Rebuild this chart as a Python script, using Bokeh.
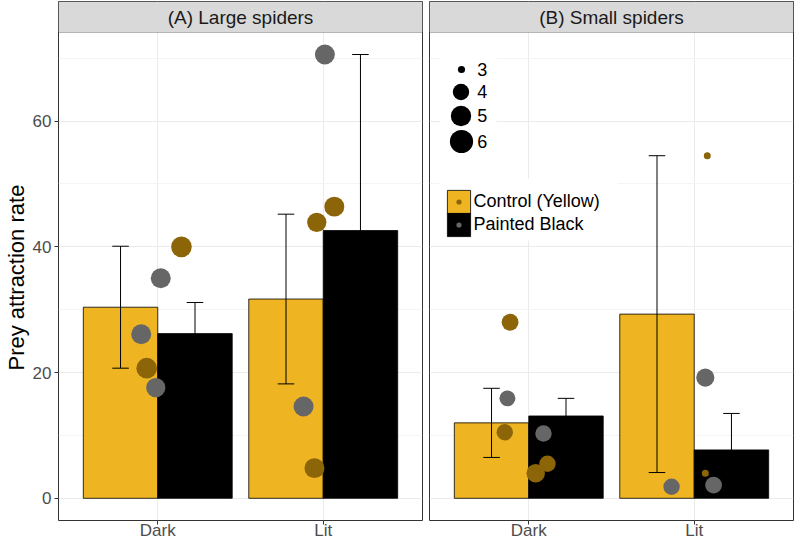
import math
from bokeh.plotting import figure
from bokeh.models import (Range1d, FixedTicker, ColumnDataSource, Legend, LegendItem,
                          BoxAnnotation, Label, Title)
from bokeh.layouts import row
from bokeh.embed import file_html
from bokeh.resources import INLINE

# ---------------- data ----------------
categories = ["Dark", "Lit"]
treatments = ["Control (Yellow)", "Painted Black"]
panel_titles = ["(A) Large spiders", "(B) Small spiders"]
y_label = "Prey attraction rate"
y_ticks = [0, 20, 40, 60]
y_minor = [10, 30, 50, 70]
size_breaks = [3, 4, 5, 6]

# bar heights (means) and standard errors, order = categories
large_control_mean = [30.4, 31.7]
large_control_se = [9.7, 13.5]
large_black_mean = [26.2, 42.6]
large_black_se = [4.95, 28.0]

small_control_mean = [12.0, 29.3]
small_control_se = [5.5, 25.2]
small_black_mean = [13.1, 7.7]
small_black_se = [2.8, 5.8]

# individual observations (jittered)
large_pt_cat = ["Dark", "Dark", "Dark", "Dark", "Dark", "Lit", "Lit", "Lit", "Lit", "Lit"]
large_pt_group = ["C", "C", "B", "B", "B", "C", "C", "C", "B", "B"]
large_pt_jitter = [0.143, -0.067, 0.018, -0.100, -0.012, 0.067, -0.039, -0.053, 0.010, -0.119]
large_pt_value = [40.0, 20.7, 35.0, 26.1, 17.6, 46.4, 43.9, 4.8, 70.6, 14.6]
large_pt_size = [5.1, 5.1, 4.9, 4.9, 4.7, 4.9, 4.7, 4.9, 4.9, 4.9]

small_pt_cat = ["Dark", "Dark", "Dark", "Dark", "Dark", "Dark", "Lit", "Lit", "Lit", "Lit", "Lit"]
small_pt_group = ["C", "C", "C", "C", "B", "B", "C", "C", "B", "B", "B"]
small_pt_jitter = [-0.113, -0.145, 0.113, 0.042, -0.129, 0.089, 0.079, 0.067, 0.067, 0.117, -0.137]
small_pt_value = [28.0, 10.5, 5.5, 4.0, 15.9, 10.3, 54.5, 4.0, 19.2, 2.1, 1.85]
small_pt_size = [4.1, 4.0, 4.0, 4.5, 3.9, 4.0, 3.0, 3.0, 4.4, 4.1, 4.0]

# ---------------- style / layout ----------------
FONT = "Liberation Sans"
YELLOW = "#EEB422"
BROWN = "#8B6508"
GRAY = "#666666"
FW = 364            # frame width of each panel
PANEL_H = 488       # data area height
STRIP_H = 31        # facet strip height (inside frame)
TOP_B, BOT_B = 1, 23
Y_RANGE = (-3.53, 74.1)
Y_TOP = Y_RANGE[1] + STRIP_H * (Y_RANGE[1] - Y_RANGE[0]) / PANEL_H
X_RANGE = (0.4, 2.6)
BAR_W = 0.45
CAP_HALF = 0.05
cat_pos = {c: i + 1 for i, c in enumerate(categories)}
NAN = float("nan")
LEFT_A, RIGHT_A = 58, 1
LEFT_B, RIGHT_B = 6, 1


def fb(y_px):
    # screen offset from panel bottom for a pixel row measured from the panel top (+32)
    return PANEL_H - (y_px - 32) * PANEL_H / 488.0


def diam(s):
    # area-style size scale (px diameter)
    return 7 + 16.3 * math.sqrt(max(s - 3, 0) / 3.0)


def make_panel(title, ctrl_mean, ctrl_se, blk_mean, blk_se, pcat, pgroup, pjit, pval, psize,
               left, right, with_y):
    p = figure(width=left + FW + right, height=TOP_B + STRIP_H + PANEL_H + BOT_B,
               x_range=Range1d(*X_RANGE), y_range=Range1d(Y_RANGE[0], Y_TOP),
               output_backend="svg", toolbar_location=None,
               y_axis_location="left" if with_y else None,
               min_border_left=left, min_border_right=right, min_border_top=TOP_B,
               min_border_bottom=BOT_B, outline_line_color="#333333",
               background_fill_color="white", border_fill_color="white")
    yt = FixedTicker(ticks=y_ticks, minor_ticks=y_minor)
    xt = FixedTicker(ticks=[cat_pos[c] for c in categories])
    p.ygrid.ticker = yt
    p.xgrid.ticker = xt
    p.grid.grid_line_color = "#EBEBEB"
    p.grid.grid_line_width = 1
    p.ygrid.minor_grid_line_color = "#F4F4F4"
    p.ygrid.minor_grid_line_width = 1

    p.xaxis.ticker = xt
    p.xaxis.major_label_overrides = {cat_pos[c]: c for c in categories}
    p.xaxis.major_label_standoff = -4
    axes = [p.xaxis]
    if with_y:
        p.yaxis.ticker = yt
        p.yaxis.major_label_standoff = 3
        axes.append(p.yaxis)
    for ax in axes:
        ax.axis_line_color = None
        ax.major_tick_line_color = "#333333"
        ax.major_tick_out = 4
        ax.major_tick_in = 0
        ax.minor_tick_line_color = None
        ax.major_label_text_font = FONT
        ax.major_label_text_font_size = "17px"
        ax.major_label_text_color = "#4D4D4D"

    xs = [cat_pos[c] for c in categories]
    xc = [x - BAR_W / 2 for x in xs]
    xb = [x + BAR_W / 2 for x in xs]
    bar_c = p.vbar(x=xc, top=ctrl_mean, bottom=0, width=BAR_W, fill_color=YELLOW,
                   line_color="black", line_width=0.8)
    bar_b = p.vbar(x=xb, top=blk_mean, bottom=0, width=BAR_W, fill_color="black",
                   line_color="black", line_width=0.8)

    # error bars (mean +/- se)
    for xx, m, se in ((xc, ctrl_mean, ctrl_se), (xb, blk_mean, blk_se)):
        lo = [a - b for a, b in zip(m, se)]
        hi = [a + b for a, b in zip(m, se)]
        p.segment(x0=xx, y0=lo, x1=xx, y1=hi, line_color="black", line_width=1)
        for yy in (lo, hi):
            p.segment(x0=[x - CAP_HALF for x in xx], y0=yy, x1=[x + CAP_HALF for x in xx],
                      y1=yy, line_color="black", line_width=1)

    src = ColumnDataSource(dict(
        x=[cat_pos[c] + j for c, j in zip(pcat, pjit)],
        y=pval,
        size=[diam(s) for s in psize],
        color=[BROWN if g == "C" else GRAY for g in pgroup],
    ))
    p.scatter(x="x", y="y", size="size", source=src, fill_color="color", line_color=None,
              marker="circle")

    # facet strip
    p.add_layout(BoxAnnotation(bottom=Y_RANGE[1], bottom_units="data",
                               fill_color="#D9D9D9", fill_alpha=1.0,
                               line_color="#333333", line_width=1))
    p.add_layout(Label(x=sum(X_RANGE) / 2, y=(Y_RANGE[1] + Y_TOP) / 2, text=title,
                       text_align="center", text_baseline="middle", text_font=FONT,
                       text_font_size="19px", text_color="#1A1A1A"))
    return p, bar_c, bar_b


pA, _, _ = make_panel(panel_titles[0], large_control_mean, large_control_se, large_black_mean,
                      large_black_se, large_pt_cat, large_pt_group, large_pt_jitter,
                      large_pt_value, large_pt_size, LEFT_A, RIGHT_A, True)
pB, barBc, barBb = make_panel(panel_titles[1], small_control_mean, small_control_se,
                              small_black_mean, small_black_se, small_pt_cat, small_pt_group,
                              small_pt_jitter, small_pt_value, small_pt_size,
                              LEFT_B, RIGHT_B, False)

# y axis title, centred on the data area (not on the strip); offset is from the frame bottom
pA.add_layout(Title(text=y_label, align="left", offset=fb(370), standoff=2,
                    text_font=FONT, text_font_size="22px", text_font_style="normal",
                    text_color="black"), "left")

# ---------------- legends (inside panel B) ----------------
def screen_box(l, r, t, b):
    return BoxAnnotation(left=l, right=r, top=t, bottom=b,
                         left_units="screen", right_units="screen",
                         top_units="screen", bottom_units="screen",
                         fill_color="white", fill_alpha=1.0, line_color=None,
                         level="underlay")


def key_legend(label, renderer, x, y, g, standoff=0):
    return Legend(items=[LegendItem(label=label, renderers=[renderer])],
                  location=(x, y), orientation="vertical",
                  glyph_width=g, glyph_height=g, label_height=0, label_width=0,
                  label_standoff=standoff, padding=0, margin=0, spacing=0,
                  background_fill_alpha=0, border_line_color=None,
                  label_text_font=FONT, label_text_font_size="18px" if label else "1px",
                  label_text_color="black", label_text_baseline="middle")


pB.add_layout(screen_box(11, 67, fb(55), fb(155)))
pB.add_layout(screen_box(11, 188, fb(178), fb(240)))

size_r = pB.scatter(x=[NAN], y=[NAN], marker="circle", fill_color="black", line_color=None)
size_rows = [69, 91, 115, 141]
cx, label_x = 31.7, 47.7
for sb, yr in zip(size_breaks, size_rows):
    cy = fb(yr)
    gw = int(round(diam(sb) / 0.4))
    pB.add_layout(key_legend("", size_r, cx - gw / 2, cy - gw / 2, gw), "center")
    pB.add_layout(Label(x=label_x, y=cy, x_units="screen", y_units="screen", text=str(sb),
                        text_align="left", text_baseline="middle", text_font=FONT,
                        text_font_size="18px", text_color="black"))

# fill legend: touching keys, each with a small point inside
GL = 29
PITCH = 23
DOT_G = 13
key_left = 18.3 - 0.1 * GL          # glyph box left (rect is inset by 10%)
key_top = fb(190) + 0.1 * GL        # glyph box top of first key
for k, (lab, bar_r, col) in enumerate(zip(treatments, [barBc, barBb], [BROWN, GRAY])):
    top_k = key_top - k * PITCH
    pB.add_layout(key_legend(lab, bar_r, key_left, top_k - GL, GL, standoff=0), "center")
    dr = pB.scatter(x=[NAN], y=[NAN], marker="circle", fill_color=col, line_color=None)
    ccx = key_left + GL / 2
    ccy = top_k - GL / 2
    pB.add_layout(key_legend("", dr, ccx - DOT_G / 2, ccy - DOT_G / 2, DOT_G), "center")

layout = row(pA, pB)
open("out.html", "w").write(file_html(layout, INLINE))
